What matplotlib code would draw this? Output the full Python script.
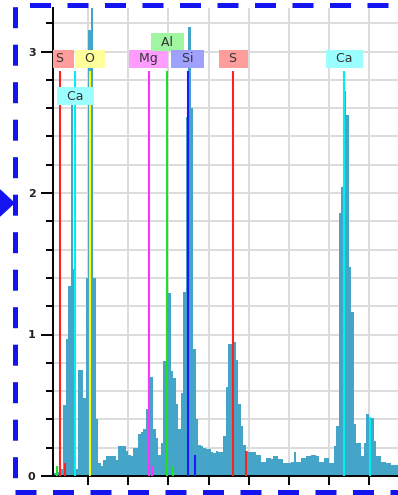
import numpy as np
import matplotlib
matplotlib.use("Agg")
import matplotlib.pyplot as plt
from matplotlib.lines import Line2D
from matplotlib.patches import Polygon
from matplotlib.ticker import MultipleLocator, NullFormatter

plt.rcParams['lines.scale_dashes'] = False

# spectrum: channel start energy (keV), channel width and counts per channel
e_start = 0.0635
e_width = 0.0312
counts = [
    0.02, 0.03, 0.03, 0.05, 0.50, 0.97, 1.34, 2.72, 1.46, 0.05,
    0.75, 0.75, 0.55, 1.40, 3.15, 3.50, 1.40, 0.40, 0.09, 0.07,
    0.11, 0.14, 0.14, 0.14, 0.14, 0.11, 0.21, 0.21, 0.21, 0.18,
    0.15, 0.14, 0.20, 0.20, 0.30, 0.31, 0.33, 0.47, 0.70, 0.70,
    0.33, 0.27, 0.15, 0.23, 0.81, 0.95, 1.29, 0.74, 0.69, 0.51,
    0.33, 0.59, 1.30, 2.54, 3.17, 2.60, 0.90, 0.40, 0.22, 0.21,
    0.20, 0.19, 0.19, 0.17, 0.16, 0.18, 0.17, 0.17, 0.28, 0.63,
    0.93, 0.93, 0.95, 0.82, 0.51, 0.35, 0.22, 0.18, 0.17, 0.17,
    0.17, 0.15, 0.15, 0.10, 0.10, 0.13, 0.13, 0.12, 0.14, 0.14,
    0.12, 0.12, 0.09, 0.09, 0.09, 0.10, 0.17, 0.10, 0.10, 0.13,
    0.13, 0.14, 0.14, 0.15, 0.15, 0.14, 0.10, 0.10, 0.13, 0.13,
    0.09, 0.09, 0.21, 0.35, 1.86, 2.04, 2.72, 2.55, 1.48, 1.16,
    0.37, 0.23, 0.23, 0.14, 0.23, 0.44, 0.42, 0.41, 0.25, 0.14,
    0.14, 0.10, 0.10, 0.09, 0.09, 0.08, 0.08, 0.08,
]

# labelled element lines
line_energy = [0.149, 0.341, 0.525, 1.254, 1.487, 1.740, 2.307, 3.691]
line_label = ['S', 'Ca', 'O', 'Mg', 'Al', 'Si', 'S', 'Ca']
line_height = 2.86
# minor lines (short markers)
minor_energy = [0.113, 0.217, 1.302, 1.557, 1.836, 2.464, 4.013]
minor_label = ['Al', 'S', 'Mg', 'Al', 'Si', 'S', 'Ca']
minor_height = [0.07, 0.09, 0.07, 0.07, 0.15, 0.18, 0.42]

elem_color = {'S': '#ff2020', 'Ca': '#00f0f0', 'O': '#ffff00', 'Mg': '#ff33ff',
              'Al': '#22dd22', 'Si': '#1a1aff'}
box_color = {'S': '#ff9c9c', 'Ca': '#9cffff', 'O': '#ffff9c', 'Mg': '#ff9cff',
             'Al': '#a0f5a0', 'Si': '#a0a0ff'}
# y position (data units) of each label box
label_y = [2.947, 2.682, 2.947, 2.947, 3.064, 2.947, 2.947, 2.947]

W, H = 398, 495
fig = plt.figure(figsize=(W / 100, H / 100), dpi=100)
ax = fig.add_axes([53 / W, 19 / H, 345 / W, 468 / H])

edges = e_start + e_width * np.arange(len(counts) + 1)
ax.stairs(counts, edges, fill=True, color='#45a5c8', linewidth=0, zorder=2)

for e, lab in zip(line_energy, line_label):
    ax.plot([e, e], [0, line_height], color=elem_color[lab], lw=1.5,
            solid_capstyle='butt', zorder=3)
for e, lab, h in zip(minor_energy, minor_label, minor_height):
    ax.plot([e, e], [0, h], color=elem_color[lab], lw=1.5,
            solid_capstyle='butt', zorder=3)
for e, lab, y in zip(line_energy, line_label, label_y):
    ax.text(e, y, '  ' + lab + '  ', ha='center', va='center', fontsize=9,
            color='#333333', zorder=4, clip_on=True,
            bbox=dict(boxstyle='square,pad=0.2', fc=box_color[lab], ec='none'))

ax.set_xlim(e_start, e_start + 345 / 80.3)
ax.set_ylim(0, 468 / 141.5)

ax.xaxis.set_major_locator(MultipleLocator(0.5))
ax.xaxis.set_major_formatter(NullFormatter())
ax.yaxis.set_major_locator(MultipleLocator(1))
ax.yaxis.set_minor_locator(MultipleLocator(0.2))
ax.tick_params(axis='x', which='major', length=6.5, width=1.4, direction='out')
ax.tick_params(axis='y', which='major', length=8.6, width=1.4, pad=4,
               labelsize=8, labelcolor='#222222')
ax.tick_params(axis='y', which='minor', length=5, width=1.4)
for t in ax.get_yticklabels():
    t.set_fontweight('bold')

ax.grid(True, axis='x', which='major', color='#dcdcdc', lw=1.4)
ax.grid(True, axis='y', which='both', color='#dcdcdc', lw=1.4)
ax.set_axisbelow(True)
for s in ['top', 'right']:
    ax.spines[s].set_visible(False)
for s in ['left', 'bottom']:
    ax.spines[s].set_linewidth(1.4)

# dashed selection frame round the figure (right side is outside the picture)
border = '#1414f0'
px = 0.72


def frame_edge(xs, ys, off):
    fig.add_artist(Line2D([x / W for x in xs], [1 - y / H for y in ys],
                          color=border, lw=5 * px,
                          linestyle=(off * px, (21 * px, 16.5 * px))))


frame_edge([14.5, 398], [5.3, 5.3], 23)
frame_edge([14.5, 14.5], [5.3, 491.5], 35.8)
frame_edge([14.5, 398], [491.5, 491.5], 0)
fig.add_artist(Polygon([(0, 1 - 190 / H), (0, 1 - 216 / H), (14 / W, 1 - 203 / H)],
                       closed=True, color=border, transform=fig.transFigure))

fig.savefig('out.png', dpi=100)
